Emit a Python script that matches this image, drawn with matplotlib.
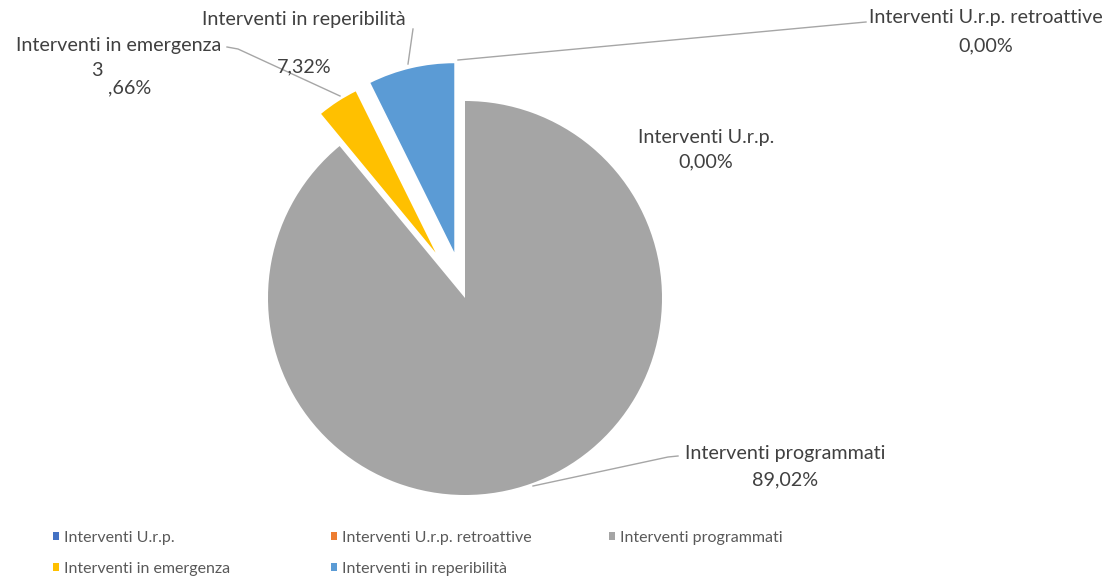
import matplotlib
matplotlib.use('Agg')
import matplotlib.pyplot as plt
from matplotlib.legend import Legend

categories = ['Interventi U.r.p.', 'Interventi U.r.p. retroattive',
              'Interventi programmati', 'Interventi in emergenza',
              'Interventi in reperibilità']
values = [0.00, 0.00, 89.02, 3.66, 7.32]
pct_labels = ['0,00%', '0,00%', '89,02%', '3\n,66%', '7,32%']
colors = ['#4472C4', '#ED7D31', '#A5A5A5', '#FFC000', '#5B9BD5']

W, H = 1111, 584
plt.rcParams['font.family'] = ['Lato', 'DejaVu Sans']
fig = plt.figure(figsize=(W / 100, H / 100), dpi=100)
ax = fig.add_axes([0, 0, 1, 1])


def Y(py):
    return H - py


# offsets in data (pixel) units
explode = [0, 0, 0, 54, 47]
wedges, _ = ax.pie(values, colors=colors, startangle=90, counterclock=False,
                   center=(465, Y(298)), radius=197, explode=explode)
wedges[3].set_radius(180)
wedges[4].set_radius(189)

ax.set_xlim(0, W)
ax.set_ylim(0, H)
ax.set_aspect('equal')
ax.axis('off')

tc = '#404040'
fs = 14.2
lc = '#A6A6A6'

# data labels
ax.text(706, Y(137), categories[0], ha='center', va='center', fontsize=fs, color=tc)
ax.text(706, Y(162), pct_labels[0], ha='center', va='center', fontsize=fs, color=tc)

ax.text(986, Y(18), categories[1], ha='center', va='center', fontsize=fs, color=tc)
ax.text(986, Y(46), pct_labels[1], ha='center', va='center', fontsize=fs, color=tc)
ax.plot([866, 458], [Y(22), Y(60)], color=lc, lw=1)

ax.text(785, Y(453), categories[2], ha='center', va='center', fontsize=fs, color=tc)
ax.text(785, Y(480), pct_labels[2], ha='center', va='center', fontsize=fs, color=tc)
ax.plot([678, 668, 533], [Y(456), Y(457), Y(486)], color=lc, lw=1)

ax.text(119, Y(45), categories[3], ha='center', va='center', fontsize=fs, color=tc)
p1, p2 = pct_labels[3].split('\n')
ax.text(97, Y(70), p1, ha='center', va='center', fontsize=fs, color=tc)
ax.text(130, Y(88), p2, ha='center', va='center', fontsize=fs, color=tc)
ax.plot([227, 238, 340], [Y(47), Y(49), Y(96)], color=lc, lw=1)

ax.text(304, Y(20), categories[4], ha='center', va='center', fontsize=fs, color=tc)
ax.text(304, Y(67), pct_labels[4], ha='center', va='center', fontsize=fs, color=tc)
ax.plot([413, 408], [Y(29), Y(64)], color=lc, lw=1)

# legend, three columns laid out row by row
cols = [[0, 3], [1, 4], [2]]
xs = [53, 331, 609]
lfs = 11.5
for x, idx in zip(xs, cols):
    leg = Legend(ax, [wedges[i] for i in idx], [categories[i] for i in idx],
                 loc='upper left', bbox_to_anchor=(x / W, 1 - 531 / H),
                 bbox_transform=fig.transFigure, frameon=False,
                 fontsize=lfs, handlelength=0.35, handleheight=0.35,
                 handletextpad=0.35, labelspacing=1.05, borderpad=0,
                 borderaxespad=0, labelcolor='#595959')
    ax.add_artist(leg)

fig.savefig('out.png', dpi=100)
